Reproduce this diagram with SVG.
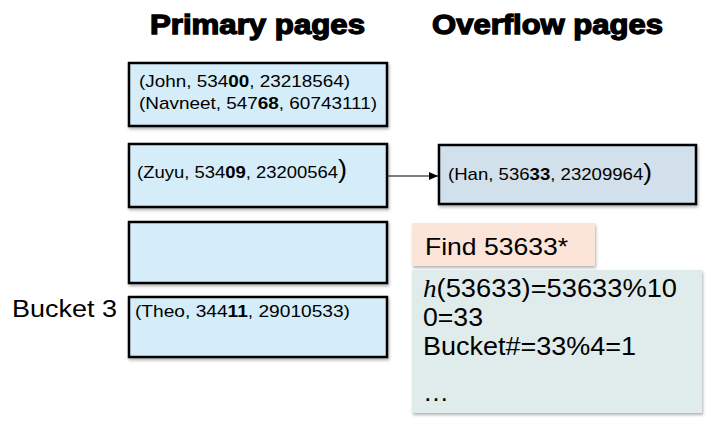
<svg xmlns="http://www.w3.org/2000/svg" width="709" height="421" viewBox="0 0 709 421">
<style>
.page{fill:#D5EDF8;stroke:#000;stroke-width:2.5}
.ovf{fill:#D1E0EA;stroke:#000;stroke-width:2.5}
.rec{font-family:"Liberation Sans",Arial,sans-serif;font-size:17px;fill:#000}
.b{font-weight:bold}
.title{font-family:"Liberation Sans",Arial,sans-serif;font-size:27px;font-weight:bold;fill:#000;stroke:#000;stroke-width:1.3}
.conn{stroke:#000;stroke-width:1;fill:none}
</style>
<defs>
<filter id="sh" x="-10%" y="-10%" width="120%" height="130%">
<feDropShadow dx="1" dy="2" stdDeviation="1.5" flood-color="#000" flood-opacity="0.3"/>
</filter>
<marker id="arr" markerWidth="10" markerHeight="8" refX="9" refY="4" orient="auto" markerUnits="userSpaceOnUse">
<path d="M0,0 L9,4 L0,8 z" fill="#000"/>
</marker>
</defs>
<g id="titles">
<text class="title" x="150" y="34" textLength="215" lengthAdjust="spacingAndGlyphs">Primary pages</text>
<text class="title" x="432" y="34" textLength="231" lengthAdjust="spacingAndGlyphs">Overflow pages</text>
</g>
<g id="page1">
<rect class="page" x="129" y="63" width="258" height="63" filter="url(#sh)"/>
<text class="rec" x="139" y="87" textLength="211" lengthAdjust="spacingAndGlyphs">(John, 534<tspan class="b">00</tspan>, 23218564)</text>
<text class="rec" x="139" y="109" textLength="238" lengthAdjust="spacingAndGlyphs">(Navneet, 547<tspan class="b">68</tspan>, 60743111)</text>
</g>
<g id="page2">
<rect class="page" x="129" y="144" width="258" height="63" filter="url(#sh)"/>
<text class="rec" x="137" y="178" textLength="210" lengthAdjust="spacingAndGlyphs">(Zuyu, 534<tspan class="b">09</tspan>, 23200564<tspan font-size="25">)</tspan></text>
</g>
<g id="page3">
<rect class="page" x="129" y="222" width="258" height="61" filter="url(#sh)"/>
</g>
<g id="page4">
<rect class="page" x="129" y="297" width="258" height="60" filter="url(#sh)"/>
<text class="rec" x="135" y="317" textLength="215" lengthAdjust="spacingAndGlyphs">(Theo, 344<tspan class="b">11</tspan>, 29010533)</text>
</g>
<g id="bucket3-label">
<text x="12" y="317" font-family="Liberation Sans,Arial,sans-serif" font-size="23" textLength="105" lengthAdjust="spacingAndGlyphs">Bucket 3</text>
</g>
<g id="overflow1">
<rect class="ovf" x="439" y="145" width="257" height="59" filter="url(#sh)"/>
<text class="rec" x="448" y="180" font-size="16" textLength="204" lengthAdjust="spacingAndGlyphs">(Han, 536<tspan class="b">33</tspan>, 23209964<tspan font-size="24">)</tspan></text>
</g>
<g id="connectors">
<line class="conn" x1="388" y1="176" x2="438" y2="176" marker-end="url(#arr)"/>
</g>
<g id="find">
<rect x="412" y="223" width="183" height="43" fill="#FBE4D8" filter="url(#sh)"/>
<text x="425" y="255" font-family="Liberation Sans,Arial,sans-serif" font-size="24" textLength="143" lengthAdjust="spacingAndGlyphs">Find 53633*</text>
</g>
<g id="calc">
<rect x="412" y="270" width="290" height="143" fill="#E0EBEB" filter="url(#sh)"/>
<g font-family="Liberation Sans,Arial,sans-serif" font-size="26" fill="#000">
<text x="423" y="297" textLength="254" lengthAdjust="spacingAndGlyphs"><tspan font-family="Liberation Serif,serif" font-style="italic">h</tspan>(53633)=53633%10</text>
<text x="423" y="326" textLength="60" lengthAdjust="spacingAndGlyphs">0=33</text>
<text x="423" y="355" textLength="213" lengthAdjust="spacingAndGlyphs">Bucket#=33%4=1</text>
<text x="423" y="401">…</text>
</g>
</g>
</svg>
